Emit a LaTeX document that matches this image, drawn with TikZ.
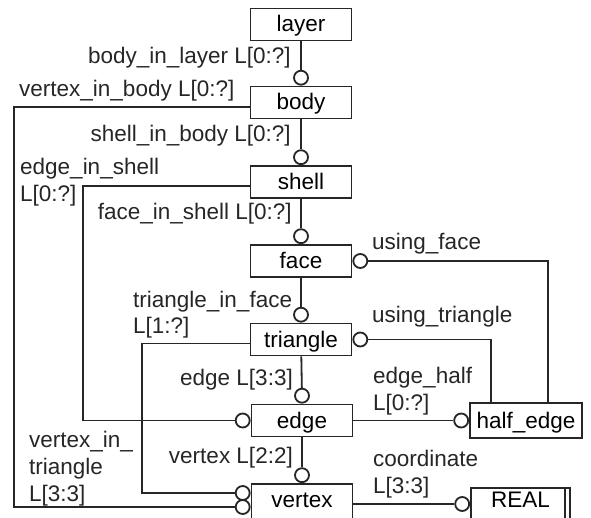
\documentclass[tikz,border=0pt]{standalone}
\usepackage{fontspec}
\setmainfont{Liberation Sans}
\usetikzlibrary{positioning}

\begin{document}
\begin{tikzpicture}[x=1pt, y=-1pt, font=\fontsize{22.5}{27}\selectfont,
    entity/.style={rectangle, draw=black!85, line width=1.8pt, fill=white, minimum width=101pt, minimum height=32pt, inner sep=0pt, text height=15pt, text depth=0pt},
    ring/.style={circle, draw=black!85, line width=1.8pt, fill=white, minimum size=14pt, inner sep=0pt},
    lbl/.style={inner sep=0pt, align=left, text=black!85},
    link/.style={draw=black!85, line width=1.8pt}]

    \useasboundingbox (0,0) rectangle (591,518);

    % entities
    \node [entity] at (301,24.5) (layer) {layer};
    \node [entity] at (301,102.5) (body) {body};
    \node [entity] at (301,182) (shell) {shell};
    \node [entity] at (301,261) (face) {face};
    \node [entity] at (301,339.5) (triangle) {triangle};
    \node [entity] at (302,420.5) (edge) {edge};
    \node [entity, minimum height=40pt, text depth=9pt] at (302,504) (vertex) {vertex};
    \node [entity, minimum width=112pt, minimum height=35pt] at (526,420.5) (half) {half\_edge};
    \node [entity, minimum width=99pt, minimum height=40pt, text depth=16pt] at (520.5,508) (real) {REAL};
    \draw [link] ([xshift=-6pt]real.north east) -- ([xshift=-6pt]real.south east);

    % optional ends
    \node [ring, above=0pt of body] (bodyin) {};
    \node [ring, above=0pt of shell] (shellin) {};
    \node [ring, above=0pt of face] (facein) {};
    \node [ring, above=0pt of triangle] (triin) {};
    \node [ring, above=0pt of edge] (edgetop) {};
    \node [ring, above=0pt of vertex] (verttop) {};
    \node [ring, right=0pt of face] (faceuse) {};
    \node [ring, right=0pt of triangle] (triuse) {};
    \node [ring, left=0pt of edge] (edgein) {};
    \node [ring, left=0pt of half] (halfin) {};
    \node [ring, anchor=east] at ([yshift=11pt]vertex.west) (verttri) {};
    \node [ring, anchor=east] at ([yshift=-3pt]vertex.west) (vertbody) {};
    \node [ring, anchor=east] at (real.west |- vertex.east) (realin) {};

    \coordinate (outer) at (14,0);
    \coordinate (mid) at (83,0);
    \coordinate (inner) at (142,0);

    % relations
    \draw [link] (layer) -- (bodyin);
    \draw [link] (body) -- (shellin);
    \draw [link] (shell) -- (facein);
    \draw [link] (face) -- (triin);
    \draw [link] (triangle) -- (edgetop);
    \draw [link] (edge) -- (verttop);
    \draw [link] (edge) -- (halfin);
    \draw [link] (vertex.east) -- (realin);
    \draw [link] (faceuse) -| ([xshift=22pt]half.north);
    \draw [link] (triuse) -| ([xshift=-35pt]half.north);
    \draw [link] ([yshift=-4.5pt]body.west) -| (outer |- vertbody) -- (vertbody);
    \draw [link] ([yshift=-4pt]shell.west) -| (mid |- edgein) -- (edgein);
    \draw [link] ([yshift=-4pt]triangle.west) -| (inner |- verttri) -- (verttri);

    % labels (base = last line)
    \node [lbl, anchor=base east] at (291,64) (lblayer) {body\_in\_layer L[0:?]};
    \node [lbl, anchor=base west] at (19,97) (lvbody) {vertex\_in\_body L[0:?]};
    \node [lbl, anchor=base east] at (291,142) (lsbody) {shell\_in\_body L[0:?]};
    \node [lbl, anchor=base west] at (20,202) (leshell) {edge\_in\_shell\\L[0:?]};
    \node [lbl, anchor=base east] at (292,220) (lfshell) {face\_in\_shell L[0:?]};
    \node [lbl, anchor=base west] at (133,334) (ltface) {triangle\_in\_face\\L[1:?]};
    \node [lbl, anchor=base east] at (293,385) (ledge) {edge L[3:3]};
    \node [lbl, anchor=base east] at (293,463) (lvert) {vertex L[2:2]};
    \node [lbl, anchor=base west] at (29,501) (lvtri) {vertex\_in\_\\triangle\\L[3:3]};
    \node [lbl, anchor=base west] at (372,250) (luface) {using\_face};
    \node [lbl, anchor=base west] at (372,323) (lutri) {using\_triangle};
    \node [lbl, anchor=base west] at (373,410) (lehalf) {edge\_half\\L[0:?]};
    \node [lbl, anchor=base west] at (373,493) (lcoord) {coordinate\\L[3:3]};
\end{tikzpicture}
\end{document}
